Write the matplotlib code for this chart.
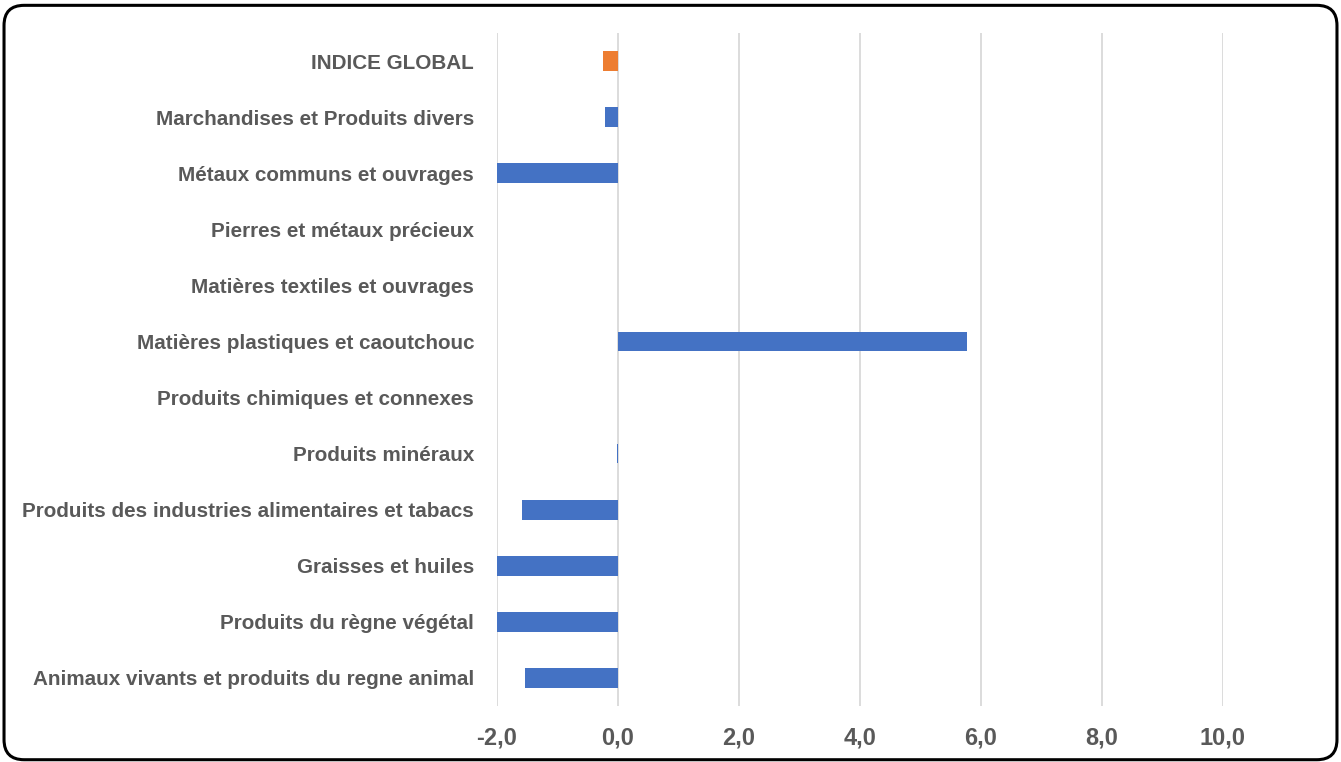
import matplotlib.pyplot as plt
from matplotlib.patches import FancyBboxPatch
from matplotlib.ticker import FuncFormatter

# Données (variation en %), de bas en haut
categories = [
    "Animaux vivants et produits du regne animal",
    "Produits du règne végétal",
    "Graisses et huiles",
    "Produits des industries alimentaires et tabacs",
    "Produits minéraux",
    "Produits chimiques et connexes",
    "Matières plastiques et caoutchouc",
    "Matières textiles et ouvrages",
    "Pierres et métaux précieux",
    "Métaux communs et ouvrages",
    "Marchandises et Produits divers",
    "INDICE GLOBAL",
]
values = [-1.53, -2.0, -2.0, -1.58, -0.02, 0.0, 5.77, 0.0, 0.0, -2.0, -0.22, -0.25]
bar_colors = ["#4472C4"] * 11 + ["#ED7D31"]
x_ticks = [-2, 0, 2, 4, 6, 8, 10]

plt.rcParams['font.family'] = ['Liberation Sans', 'DejaVu Sans']

fig = plt.figure(figsize=(13.41, 7.62), dpi=100)
ax = fig.add_axes([0.3706, 0.0735, 0.5414, 0.8832])

ypos = list(range(len(categories)))
ax.barh(ypos, values, height=0.35, color=bar_colors, zorder=3)

ax.set_xlim(-2, 10)
ax.set_ylim(-0.5, len(categories) - 0.5)
ax.set_xticks(x_ticks)
ax.xaxis.set_major_formatter(FuncFormatter(lambda v, p: f"{v:.1f}".replace(".", ",")))
ax.set_yticks(ypos)
ax.set_yticklabels(categories)

ax.grid(axis='x', color='#D9D9D9', linewidth=1.3, zorder=0)
for s in ax.spines.values():
    s.set_visible(False)
ax.tick_params(axis='both', length=0)
ax.tick_params(axis='y', pad=16.5, labelsize=14.9, labelcolor='#595959')
ax.tick_params(axis='x', pad=15, labelsize=17, labelcolor='#595959')
for lbl in ax.get_yticklabels() + ax.get_xticklabels():
    lbl.set_fontweight('bold')

# cadre arrondi autour du graphique
frame = FancyBboxPatch((0.003, 0.003), 0.994, 0.99,
                       boxstyle="round,pad=0,rounding_size=0.015",
                       transform=fig.transFigure, fill=False,
                       edgecolor='black', linewidth=2.2, mutation_aspect=1341 / 762)
fig.patches.append(frame)

fig.savefig('out.png', dpi=100)
